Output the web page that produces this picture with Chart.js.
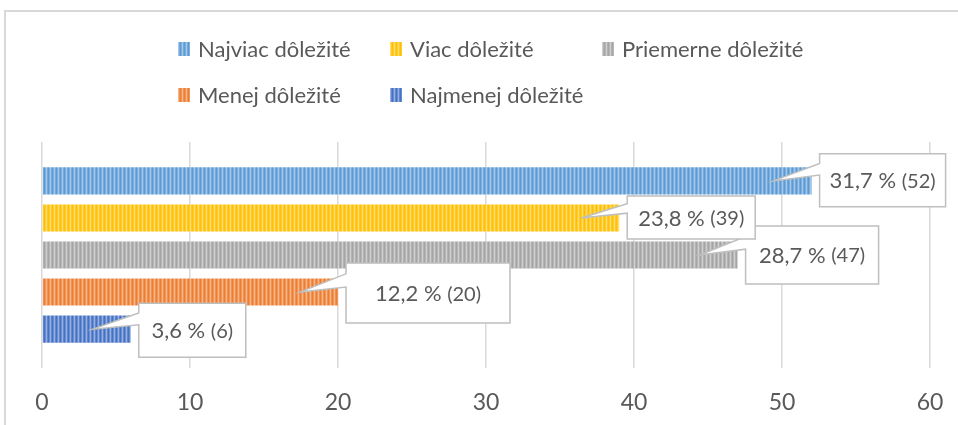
<!DOCTYPE html>
<html>
<head>
<meta charset="utf-8">
<script src="https://cdn.jsdelivr.net/npm/chart.js@4/dist/chart.umd.min.js"></script>
<style>
  body { margin: 0; background: #fff; }
</style>
</head>
<body>
<canvas id="ChartA" width="958" height="425"></canvas>
<script>
let seriesNames = ['Najviac dôležité', 'Viac dôležité', 'Priemerne dôležité', 'Menej dôležité', 'Najmenej dôležité'];
let counts = [52, 39, 47, 20, 6];
let percents = [31.7, 23.8, 28.7, 12.2, 3.6];
let xTicks = [0, 10, 20, 30, 40, 50, 60];

let colors = ['#5B9BD5', '#FFC000', '#A5A5A5', '#ED7D31', '#4472C4'];
let textColor = '#595959';
let fontName = 'Lato, "Open Sans", sans-serif';

// callout box: width, height, offset of top from bar centre
let callouts = [
  [126, 53, -27],
  [128, 43, -22],
  [133, 58, -29],
  [164, 60, -29],
  [107, 54, -26]
];

function mix(hex, amt) {
  let n = parseInt(hex.slice(1), 16);
  let r = n >> 16, g = (n >> 8) & 255, b = n & 255;
  r = Math.round(r + (255 - r) * amt);
  g = Math.round(g + (255 - g) * amt);
  b = Math.round(b + (255 - b) * amt);
  return 'rgb(' + r + ',' + g + ',' + b + ')';
}

function stripes(hex) {
  let c = document.createElement('canvas');
  c.width = 4; c.height = 4;
  let g = c.getContext('2d');
  g.fillStyle = hex; g.fillRect(0, 0, 4, 4);
  g.fillStyle = mix(hex, 0.2); g.fillRect(1, 0, 1, 4);
  g.fillStyle = mix(hex, 0.45); g.fillRect(2, 0, 1, 4);
  g.fillStyle = mix(hex, 0.15); g.fillRect(3, 0, 1, 4);
  return g.createPattern(c, 'repeat');
}

let fills = colors.map(stripes);

const frame = {
  id: 'frame',
  beforeDraw(chart) {
    let ctx = chart.ctx;
    ctx.save();
    ctx.strokeStyle = '#d9d9d9';
    ctx.lineWidth = 2;
    ctx.strokeRect(5, 11, 1000, 500);
    ctx.restore();
  }
};

const gridLegend = {
  id: 'gridLegend',
  afterDraw(chart) {
    let ctx = chart.ctx;
    let cols = [178, 390, 602];
    let rows = [49, 95];
    ctx.save();
    ctx.font = '22px ' + fontName;
    ctx.textBaseline = 'middle';
    seriesNames.forEach(function(name, i) {
      let x = cols[i % 3], y = rows[Math.floor(i / 3)];
      ctx.fillStyle = fills[i];
      ctx.fillRect(x, y - 7, 12, 14);
      ctx.fillStyle = textColor;
      ctx.fillText(name, x + 20, y + 1);
    });
    ctx.restore();
  }
};

const calloutLabels = {
  id: 'calloutLabels',
  afterDatasetsDraw(chart) {
    let ctx = chart.ctx;
    ctx.save();
    for (let i = counts.length - 1; i >= 0; i--) {
      let bar = chart.getDatasetMeta(i).data[0];
      let w = callouts[i][0], h = callouts[i][1];
      let left = bar.x + 8, top = bar.y + callouts[i][2];
      let tipX = bar.x - 38, tipY = bar.y;
      ctx.beginPath();
      ctx.moveTo(left, top);
      ctx.lineTo(left + w, top);
      ctx.lineTo(left + w, top + h);
      ctx.lineTo(left, top + h);
      ctx.lineTo(left, top + h * 0.4);
      ctx.lineTo(tipX, tipY);
      ctx.lineTo(left, top + h * 0.18);
      ctx.closePath();
      ctx.fillStyle = '#fff';
      ctx.fill();
      ctx.strokeStyle = '#bfbfbf';
      ctx.lineWidth = 1.5;
      ctx.stroke();

      let big = percents[i].toFixed(1).replace('.', ',') + ' % ';
      let small = '(' + counts[i] + ')';
      ctx.font = '22px ' + fontName;
      let wb = ctx.measureText(big).width;
      ctx.font = '20px ' + fontName;
      let ws = ctx.measureText(small).width;
      let tx = left + (w - wb - ws) / 2, ty = top + h / 2 + 1;
      ctx.fillStyle = textColor;
      ctx.textBaseline = 'middle';
      ctx.font = '22px ' + fontName;
      ctx.fillText(big, tx, ty);
      ctx.font = '20px ' + fontName;
      ctx.fillText(small, tx + wb, ty);
    }
    ctx.restore();
  }
};

function createGraphA() {
  let ctx = document.getElementById('ChartA').getContext('2d');
  let myChart = new Chart(ctx, {
    type: 'bar',
    data: {
      labels: [''],
      datasets: seriesNames.map(function(name, i) {
        return {
          label: name,
          data: [counts[i]],
          backgroundColor: fills[i],
          categoryPercentage: 0.82,
          barPercentage: 0.73
        };
      })
    },
    options: {
      indexAxis: 'y',
      responsive: false,
      animation: false,
      layout: { padding: { left: 42, right: 28, top: 142, bottom: 10 } },
      plugins: {
        legend: { display: false },
        tooltip: { enabled: false }
      },
      scales: {
        y: { display: false },
        x: {
          min: xTicks[0],
          max: xTicks[xTicks.length - 1],
          afterBuildTicks: function(scale) {
            scale.ticks = xTicks.map(function(v) { return { value: v }; });
          },
          afterFit: function(scale) {
            scale.height = 47;
            scale.paddingLeft = 0;
            scale.paddingRight = 0;
          },
          grid: { color: '#d9d9d9', lineWidth: 1.5, drawTicks: false },
          border: { display: false },
          ticks: {
            padding: 21,
            color: textColor,
            font: { family: fontName, size: 23 }
          }
        }
      }
    },
    plugins: [frame, gridLegend, calloutLabels]
  });
}

createGraphA();
</script>
</body>
</html>
